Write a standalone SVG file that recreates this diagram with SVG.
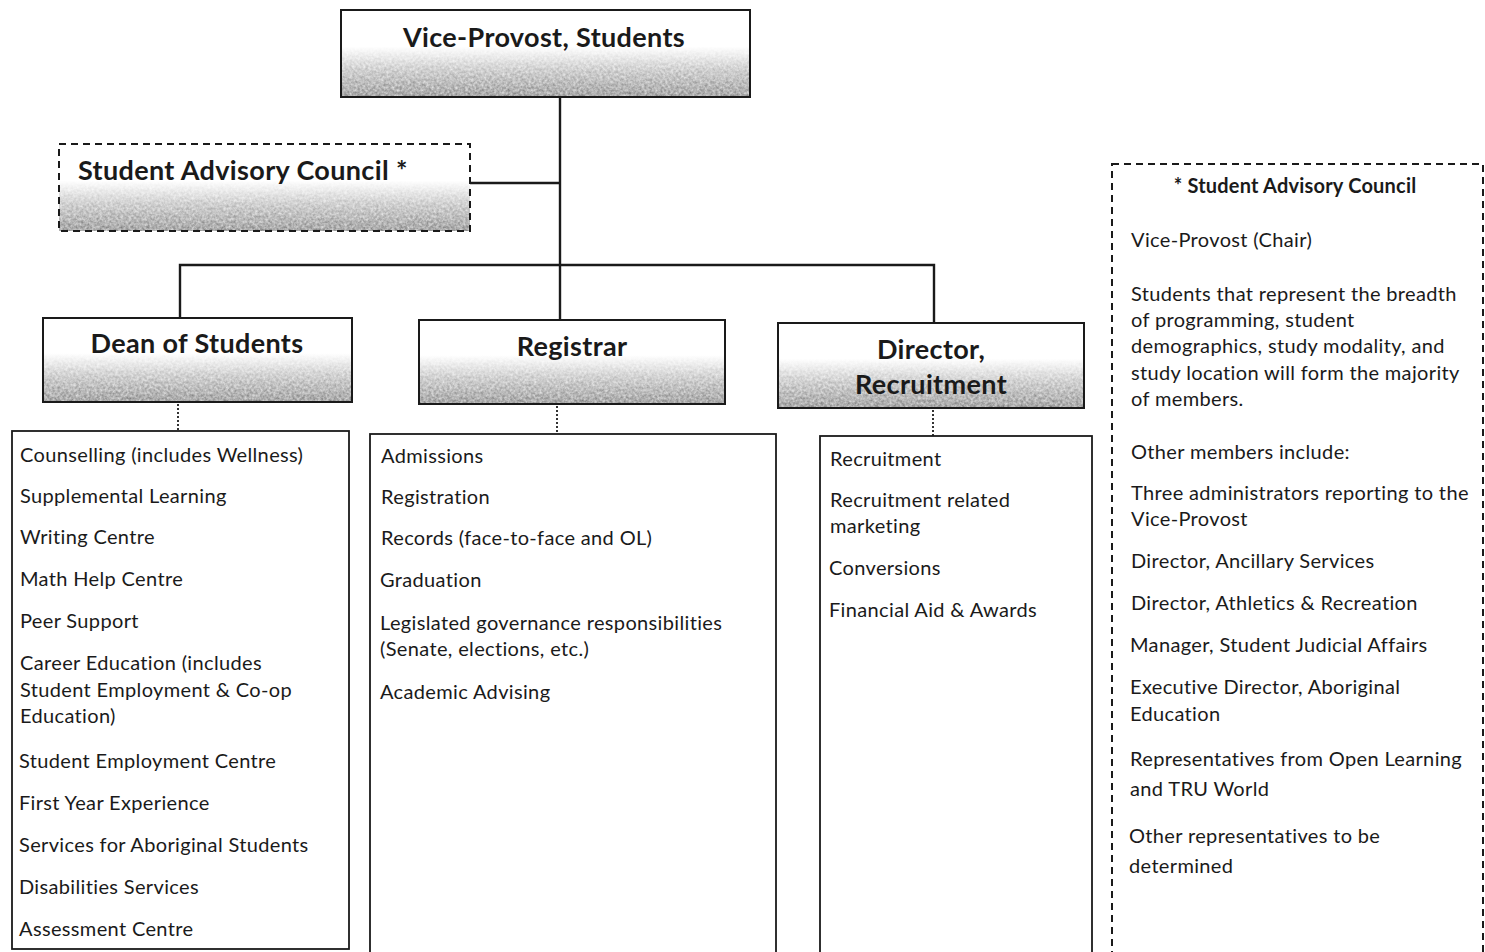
<svg xmlns="http://www.w3.org/2000/svg" width="1485" height="952" viewBox="0 0 1485 952">
  <defs>
    <!-- header fill: white top fading into grey at the bottom -->
    <linearGradient id="headFill" x1="0" y1="0" x2="0" y2="1">
      <stop offset="0" stop-color="#ffffff"/>
      <stop offset="0.42" stop-color="#ffffff"/>
      <stop offset="0.68" stop-color="#d2d2d2"/>
      <stop offset="1" stop-color="#a8a8a8"/>
    </linearGradient>
    <!-- speckled texture applied to the grey part of header fills -->
    <filter id="grain" x="0" y="0" width="1" height="1" color-interpolation-filters="sRGB">
      <feTurbulence type="fractalNoise" baseFrequency="0.38" numOctaves="2" seed="7" result="noise"/>
      <feColorMatrix in="noise" type="matrix" values="1 0 0 0 0  1 0 0 0 0  1 0 0 0 0  0 0 0 0 1" result="grey"/>
      <feComposite in="SourceGraphic" in2="grey" operator="arithmetic" k1="-1.5" k2="1.75" k3="1.5" k4="-0.75"/>
    </filter>
  </defs>
  <style>
    .bg { fill: #ffffff; }
    .head-fill { fill: url(#headFill); filter: url(#grain); }
    .box { fill: none; stroke: #1a1a1a; stroke-width: 2; }
    .dashed { fill: none; stroke: #1a1a1a; stroke-width: 2; stroke-dasharray: 7 5; }
    .list { fill: #ffffff; stroke: #1a1a1a; stroke-width: 1.8; }
    .link { fill: none; stroke: #1a1a1a; stroke-width: 2.4; }
    .dots { fill: none; stroke: #333333; stroke-width: 2; stroke-dasharray: 2 2; }
    .title { font-family: Lato, "Liberation Sans", sans-serif; font-weight: bold; font-size: 27px; letter-spacing: 0.35px; fill: #1a1a1a; }
    .item { font-family: Lato, "Liberation Sans", sans-serif; font-size: 20px; letter-spacing: 0.35px; fill: #1a1a1a; }
    .note-title { font-family: Lato, "Liberation Sans", sans-serif; font-weight: bold; font-size: 20px; letter-spacing: 0.2px; fill: #1a1a1a; }
  </style>

  <rect class="bg" x="0" y="0" width="1485" height="952"/>

  <!-- reporting lines -->
  <g id="connectors">
    <path class="link" d="M560,97 V265"/>
    <path class="link" d="M470,183 H560"/>
    <path class="link" d="M180,318 V265 H934 V323"/>
    <path class="link" d="M560,265 V320"/>
    <path class="dots" d="M178,404 V431"/>
    <path class="dots" d="M557,406 V434"/>
    <path class="dots" d="M933,410 V436"/>
  </g>

  <g id="vice-provost">
    <rect class="head-fill" x="341" y="10" width="409" height="87"/>
    <rect class="box" x="341" y="10" width="409" height="87"/>
    <text class="title" x="544" y="47" text-anchor="middle">Vice-Provost, Students</text>
  </g>

  <g id="student-advisory-council">
    <rect class="head-fill" x="59" y="144" width="411" height="87"/>
    <rect class="dashed" x="59" y="144" width="411" height="87"/>
    <text class="title" x="78" y="180">Student Advisory Council *</text>
  </g>

  <g id="dean-of-students">
    <rect class="head-fill" x="43" y="318" width="309" height="84"/>
    <rect class="box" x="43" y="318" width="309" height="84"/>
    <text class="title" x="197" y="353" text-anchor="middle">Dean of Students</text>
  </g>

  <g id="registrar">
    <rect class="head-fill" x="419" y="320" width="306" height="84"/>
    <rect class="box" x="419" y="320" width="306" height="84"/>
    <text class="title" x="572" y="356" text-anchor="middle">Registrar</text>
  </g>

  <g id="director-recruitment">
    <rect class="head-fill" x="778" y="323" width="306" height="85"/>
    <rect class="box" x="778" y="323" width="306" height="85"/>
    <text class="title" x="931" y="359" text-anchor="middle">Director,</text>
    <text class="title" x="931" y="394" text-anchor="middle">Recruitment</text>
  </g>

  <g id="dean-units">
    <rect class="list" x="12" y="431" width="337" height="518"/>
    <text class="item" x="20" y="462">Counselling (includes Wellness)</text>
    <text class="item" x="20" y="503">Supplemental Learning</text>
    <text class="item" x="20" y="544">Writing Centre</text>
    <text class="item" x="20" y="586">Math Help Centre</text>
    <text class="item" x="20" y="628">Peer Support</text>
    <text class="item" x="20" y="670">Career Education (includes</text>
    <text class="item" x="20" y="697">Student Employment &amp; Co-op</text>
    <text class="item" x="20" y="723">Education)</text>
    <text class="item" x="19" y="768">Student Employment Centre</text>
    <text class="item" x="19" y="810">First Year Experience</text>
    <text class="item" x="19" y="852">Services for Aboriginal Students</text>
    <text class="item" x="19" y="894">Disabilities Services</text>
    <text class="item" x="19" y="936">Assessment Centre</text>
  </g>

  <g id="registrar-units">
    <rect class="list" x="370" y="434" width="406" height="520"/>
    <text class="item" x="381" y="463">Admissions</text>
    <text class="item" x="381" y="504">Registration</text>
    <text class="item" x="381" y="545">Records (face-to-face and OL)</text>
    <text class="item" x="380" y="587">Graduation</text>
    <text class="item" x="380" y="630">Legislated governance responsibilities</text>
    <text class="item" x="380" y="656">(Senate, elections, etc.)</text>
    <text class="item" x="380" y="699">Academic Advising</text>
  </g>

  <g id="recruitment-units">
    <rect class="list" x="820" y="436" width="272" height="520"/>
    <text class="item" x="830" y="466">Recruitment</text>
    <text class="item" x="830" y="507">Recruitment related</text>
    <text class="item" x="830" y="533">marketing</text>
    <text class="item" x="829" y="575">Conversions</text>
    <text class="item" x="829" y="617">Financial Aid &amp; Awards</text>
  </g>

  <g id="council-membership">
    <rect class="dashed" x="1112" y="164" width="371" height="800"/>
    <text class="note-title" x="1295" y="193" text-anchor="middle">* Student Advisory Council</text>
    <text class="item" x="1131" y="247">Vice-Provost (Chair)</text>
    <text class="item" x="1131" y="301">Students that represent the breadth</text>
    <text class="item" x="1131" y="327">of programming, student</text>
    <text class="item" x="1131" y="353">demographics, study modality, and</text>
    <text class="item" x="1131" y="380">study location will form the majority</text>
    <text class="item" x="1131" y="406">of members.</text>
    <text class="item" x="1131" y="459">Other members include:</text>
    <text class="item" x="1131" y="500">Three administrators reporting to the</text>
    <text class="item" x="1131" y="526">Vice-Provost</text>
    <text class="item" x="1131" y="568">Director, Ancillary Services</text>
    <text class="item" x="1131" y="610">Director, Athletics &amp; Recreation</text>
    <text class="item" x="1130" y="652">Manager, Student Judicial Affairs</text>
    <text class="item" x="1130" y="694">Executive Director, Aboriginal</text>
    <text class="item" x="1130" y="721">Education</text>
    <text class="item" x="1130" y="766">Representatives from Open Learning</text>
    <text class="item" x="1130" y="796">and TRU World</text>
    <text class="item" x="1129" y="843">Other representatives to be</text>
    <text class="item" x="1129" y="873">determined</text>
  </g>
</svg>
